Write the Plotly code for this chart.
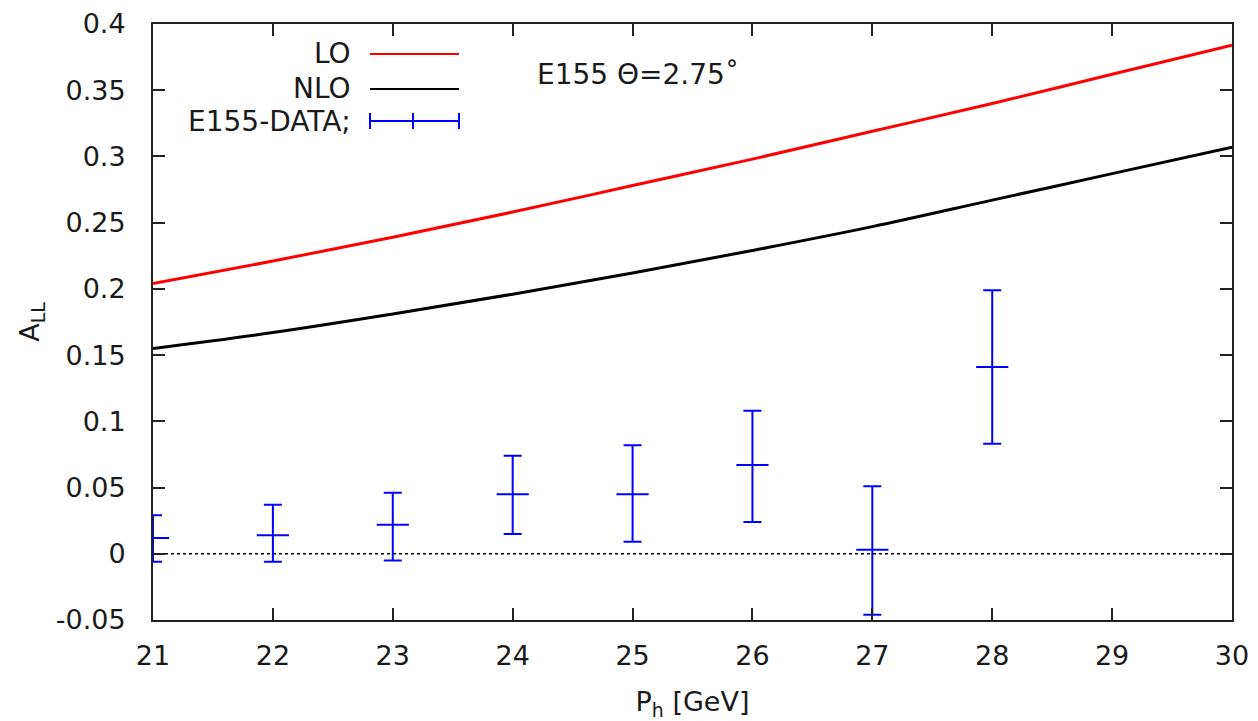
import plotly.graph_objects as go

# Data
curve_x = [21, 22, 23, 24, 25, 26, 27, 28, 29, 30]
lo_vals = [0.204, 0.221, 0.239, 0.258, 0.278, 0.298, 0.319, 0.340, 0.362, 0.384]
nlo_vals = [0.155, 0.167, 0.181, 0.196, 0.212, 0.229, 0.247, 0.267, 0.287, 0.307]

data_x = [21, 22, 23, 24, 25, 26, 27, 28]
data_y = [0.012, 0.014, 0.022, 0.045, 0.045, 0.067, 0.003, 0.141]
data_hi = [0.029, 0.037, 0.046, 0.074, 0.082, 0.108, 0.051, 0.199]
data_lo = [-0.006, -0.006, -0.005, 0.015, 0.009, 0.024, -0.046, 0.083]

x_ticks = [21, 22, 23, 24, 25, 26, 27, 28, 29, 30]
y_ticks = [-0.05, 0, 0.05, 0.1, 0.15, 0.2, 0.25, 0.3, 0.35, 0.4]
y_ticktext = ["-0.05", "0", "0.05", "0.1", "0.15", "0.2", "0.25", "0.3", "0.35", "0.4"]

FONT = "DejaVu Sans"
BLUE = "#0000ff"
TXT = "#1a1a1a"
FS = 27

fig = go.Figure()

# zero line
fig.add_trace(go.Scatter(x=[x_ticks[0], x_ticks[-1]], y=[0, 0], mode="lines",
                         line=dict(color="black", width=1.5, dash="dot"),
                         showlegend=False, hoverinfo="skip"))

fig.add_trace(go.Scatter(x=curve_x, y=lo_vals, mode="lines", name="LO",
                         line=dict(color="#ff0000", width=3, shape="spline"),
                         showlegend=False))
fig.add_trace(go.Scatter(x=curve_x, y=nlo_vals, mode="lines", name="NLO",
                         line=dict(color="black", width=3, shape="spline"),
                         showlegend=False))

err_plus = [h - y for h, y in zip(data_hi, data_y)]
err_minus = [y - l for y, l in zip(data_y, data_lo)]
fig.add_trace(go.Scatter(
    x=data_x, y=data_y, mode="markers", name="E155-DATA;",
    marker=dict(symbol="line-ew-open", size=23, color=BLUE,
                line=dict(color=BLUE, width=2)),
    error_y=dict(type="data", symmetric=False, array=err_plus,
                 arrayminus=err_minus, color=BLUE, thickness=2, width=9),
    showlegend=False, cliponaxis=True))

# Manual gnuplot-style legend
legend_items = [("LO", "#ff0000", 54), ("NLO", "black", 89), ("E155-DATA;", BLUE, 121)]
W, H = 1258, 721
L, R, T, B = 153, 26, 24, 101
pw, ph = W - L - R, H - T - B

def px(xp):
    return (xp - L) / pw

def py(yp):
    return 1 - (yp - T) / ph

shapes = []
annotations = []
for label, color, yp in legend_items:
    annotations.append(dict(x=px(353), y=py(yp), xref="paper", yref="paper",
                            text=label, showarrow=False, xanchor="right",
                            yanchor="middle",
                            font=dict(family=FONT, size=28, color=TXT)))
    shapes.append(dict(type="line", xref="paper", yref="paper",
                       x0=px(370), x1=px(459), y0=py(yp), y1=py(yp),
                       line=dict(color=color, width=2)))
# legend errorbar caps
for xc in (370, 413, 459):
    shapes.append(dict(type="line", xref="paper", yref="paper",
                       x0=px(xc), x1=px(xc), y0=py(113), y1=py(129),
                       line=dict(color=BLUE, width=2)))

annotations.append(dict(x=px(535), y=py(75), xref="paper", yref="paper",
                        text="E155 Θ=2.75˚", showarrow=False, xanchor="left",
                        yanchor="middle", font=dict(family=FONT, size=28, color=TXT)))

fig.update_layout(
    width=W, height=H,
    margin=dict(l=L, r=R, t=T, b=B, autoexpand=False),
    paper_bgcolor="white", plot_bgcolor="white",
    font=dict(family=FONT, size=FS, color=TXT),
    shapes=shapes, annotations=annotations,
    xaxis=dict(range=[21, 30], tickvals=x_ticks, ticks="inside", ticklen=12,
               tickwidth=2, tickcolor="#222", mirror="allticks", showline=True,
               linecolor="#222", linewidth=2, showgrid=False, zeroline=False,
               ticklabelstandoff=11, tickfont=dict(size=FS), automargin=False,
               title=dict(text="P<sub>h</sub> [GeV]", font=dict(size=FS), standoff=30)),
    yaxis=dict(range=[-0.05, 0.4], tickvals=y_ticks, ticktext=y_ticktext,
               ticks="inside", ticklen=12, tickwidth=2, tickcolor="#222",
               mirror="allticks", showline=True, linecolor="#222", linewidth=2,
               showgrid=False, zeroline=False, ticklabelstandoff=20,
               tickfont=dict(size=FS), automargin=False,
               title=dict(text="A<sub>LL</sub>", font=dict(size=FS), standoff=8)),
)

fig.write_html("out.html")
